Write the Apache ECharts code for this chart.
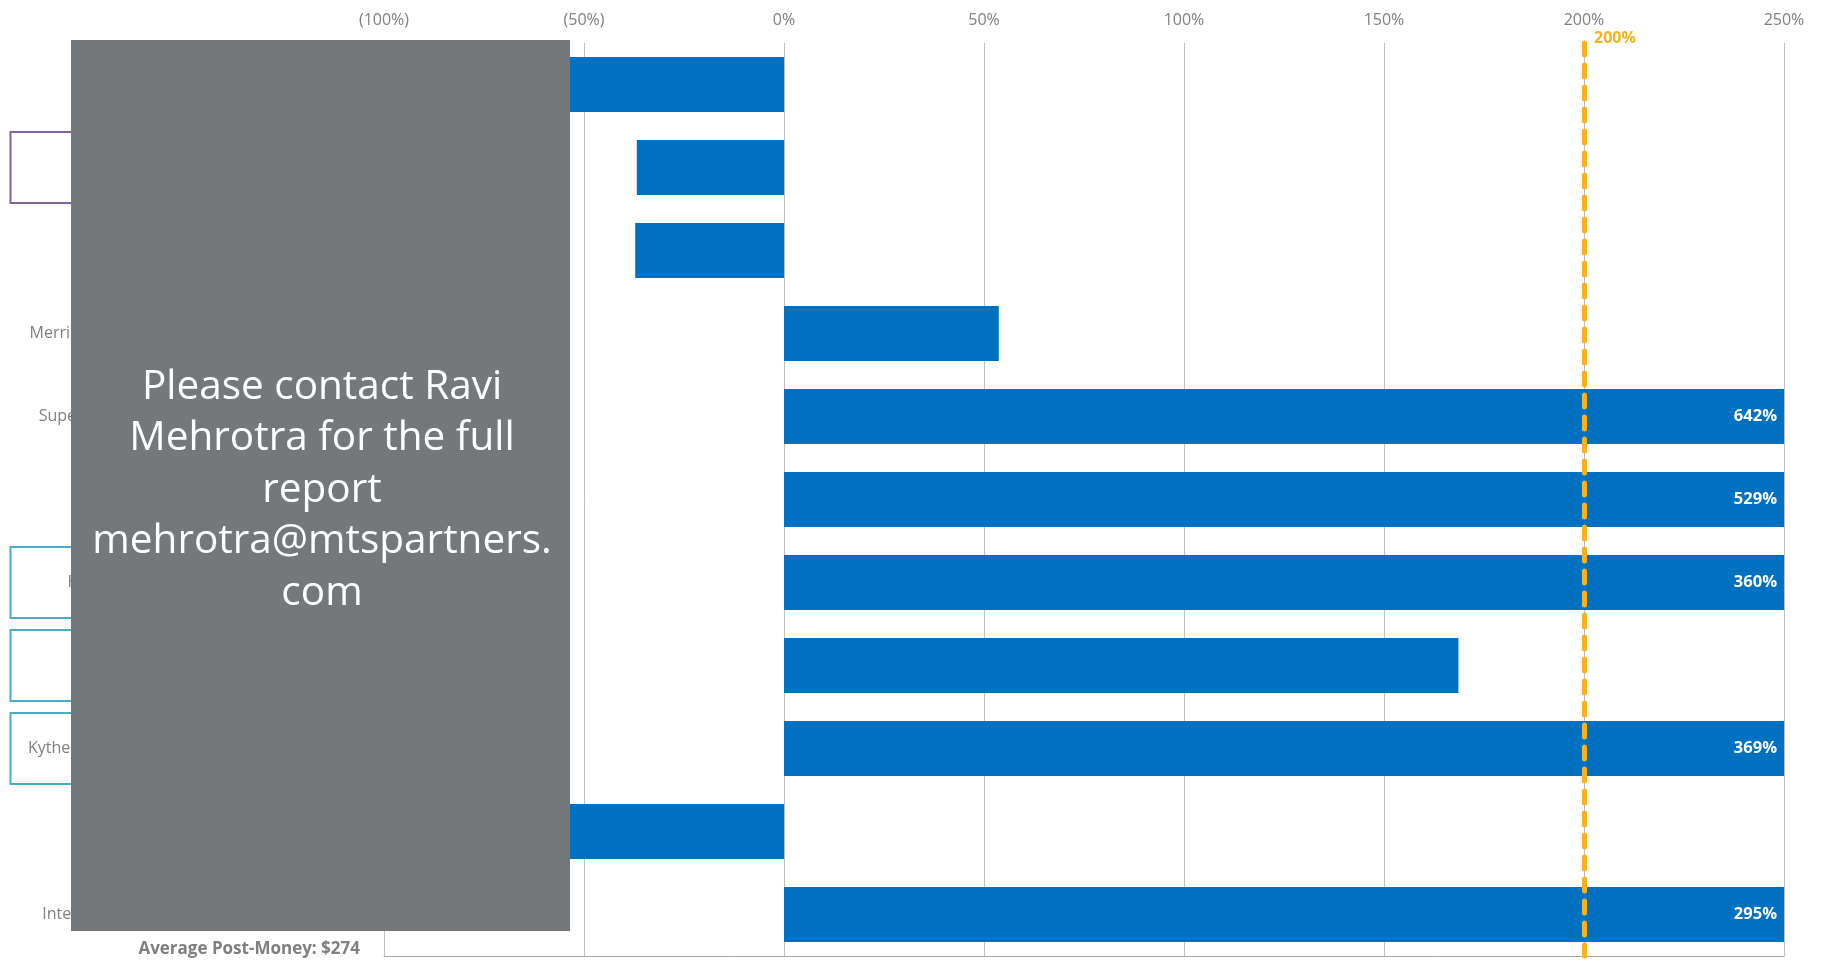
<!DOCTYPE html>
<html>
<head>
<meta charset="utf-8">
<title>Post-IPO Returns</title>
<script src="https://cdn.jsdelivr.net/npm/echarts@6/dist/echarts.min.js"></script>
<style>
  html, body { margin: 0; padding: 0; background: #fff; }
  #chart { width: 1825px; height: 966px; }
</style>
</head>
<body>
<div id="chart"></div>
<script>
// 公司（自上而下）
const companies = [
  'Verastem', 'Cempra', 'ChemoCentryx', 'Merrimack Pharmaceuticals',
  'Supernus Pharmaceuticals', 'Tesaro', 'Hyperion Therapeutics',
  'Durata Therapeutics', 'Kythera Biopharmaceuticals', 'Regulus Therapeutics',
  'Intercept Pharmaceuticals'
];
// 上市后涨跌幅（%），超出坐标轴的用标签显示
const returns = [-60, -36.8, -37.2, 53.7, 642, 529, 360, 168.6, 369, -58, 295];
// 横轴刻度
const xMin = -100;
const xMax = 250;
const xStep = 50;
// 参考线
const hurdle = 200;
const avgPostMoney = 'Average Post-Money: $274';
const noticeText = 'Please contact Ravi\nMehrotra for the full\nreport\nmehrotra@mtspartners.\ncom';
// 标注框所在行
const purpleRows = [1];
const cyanRows = [6, 7, 8];

const font = '"Open Sans", "Noto Sans", sans-serif';
const chart = echarts.init(document.getElementById('chart'));

const pct = (v) => (v < 0 ? '(' + Math.abs(v) + '%)' : v + '%');

chart.setOption({
  animation: false,
  grid: { left: 384, right: 41, top: 43, bottom: 10 },
  xAxis: [
    {
      type: 'value',
      position: 'top',
      min: xMin,
      max: xMax,
      interval: xStep,
      axisLine: { show: false },
      axisTick: { show: false },
      splitLine: { lineStyle: { color: '#c0c0c0', width: 1 } },
      axisLabel: { formatter: pct, color: '#808080', fontSize: 16, fontFamily: font, margin: 15 }
    },
    {
      type: 'value',
      position: 'bottom',
      min: xMin,
      max: xMax,
      axisLine: { show: true, lineStyle: { color: '#a6a6a6', width: 1 } },
      axisTick: { show: false },
      axisLabel: { show: false },
      splitLine: { show: false }
    }
  ],
  yAxis: {
    type: 'category',
    inverse: true,
    data: companies,
    axisLine: { show: false },
    axisTick: { show: false },
    axisLabel: { color: '#7f7f7f', fontSize: 16, fontFamily: font, margin: 147, padding: [4, 0, 0, 0] }
  },
  series: [
    {
      name: 'Return',
      type: 'bar',
      data: returns,
      barWidth: 55,
      itemStyle: { color: '#0070c0' },
      label: {
        show: true,
        position: 'insideRight',
        distance: 7,
        color: '#fff',
        fontWeight: 'bold',
        fontSize: 16.5,
        fontFamily: font,
        formatter: (p) => (p.value > xMax ? p.value + '%' : '')
      },
      markLine: {
        silent: true,
        symbol: 'none',
        label: { show: false },
        lineStyle: { color: '#f9b21d', width: 5, type: [12, 10], cap: 'round' },
        data: [{ xAxis: hurdle }]
      }
    }
  ]
});

// 标注、遮罩等图形，位置由坐标轴换算
const x200 = chart.convertToPixel({ xAxisIndex: 0 }, hurdle);
const rowBox = (i, color) => ({
  type: 'rect',
  z: 10,
  shape: { x: 10.5, y: chart.convertToPixel({ yAxisIndex: 0 }, companies[i]) - 35.5, width: 240, height: 71 },
  style: { fill: 'none', stroke: color, lineWidth: 2 }
});

chart.setOption({
  graphic: [
    ...purpleRows.map((i) => rowBox(i, '#8064a2')),
    ...cyanRows.map((i) => rowBox(i, '#4bacc6')),
    {
      type: 'text',
      z: 20,
      x: x200 + 10,
      y: 38,
      style: { text: pct(hurdle), fill: '#f9b21d', font: 'bold 16px ' + font, verticalAlign: 'middle' }
    },
    {
      type: 'rect',
      z: 30,
      shape: { x: 71, y: 40, width: 499, height: 891 },
      style: { fill: '#75787b' }
    },
    {
      type: 'text',
      z: 31,
      x: 322,
      y: 490,
      style: {
        text: noticeText,
        fill: '#fff',
        font: '40.5px ' + font,
        lineHeight: 51.5,
        align: 'center',
        verticalAlign: 'middle'
      }
    },
    {
      type: 'text',
      z: 20,
      x: 360,
      y: 949,
      style: { text: avgPostMoney, fill: '#7f7f7f', font: 'bold 17px ' + font, align: 'right', verticalAlign: 'middle' }
    }
  ]
});
</script>
</body>
</html>
